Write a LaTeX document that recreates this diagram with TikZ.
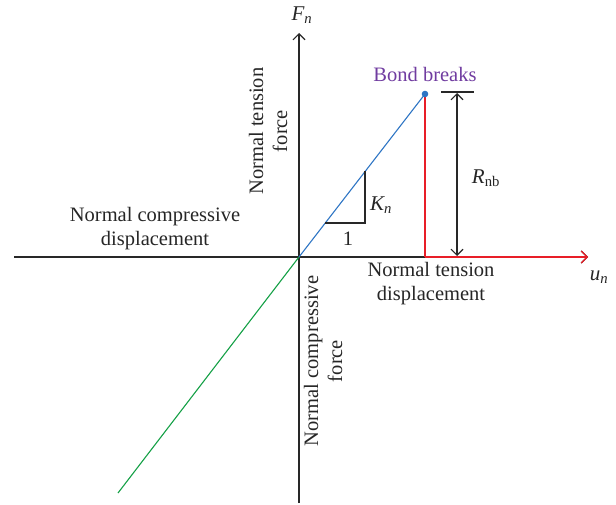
\documentclass[tikz,border=0pt]{standalone}
\usepackage{amsmath}
\usepackage{fontspec}
\setmainfont{Liberation Serif}
\usetikzlibrary{arrows.meta}
\definecolor{cblue}{RGB}{46,117,196}
\definecolor{cred}{RGB}{232,30,40}
\definecolor{cgreen}{RGB}{20,160,70}
\definecolor{cpurple}{RGB}{112,60,160}
\definecolor{caxis}{RGB}{40,40,40}
\begin{document}
\begin{tikzpicture}[x=1pt,y=-1pt,
  tip/.style={-{Straight Barb[length=6pt,width=12pt]}},
  lbl/.style={font=\fontsize{20.5}{24}\selectfont, text=black!85, align=center, inner sep=0pt},
  mathlbl/.style={font=\fontsize{21}{24}\selectfont, text=black!85, inner sep=0pt},
  line width=1.1pt]
\useasboundingbox (0,0) rectangle (616,505);
\coordinate (O) at (299,257);
\coordinate (ytop) at (299,33);
\coordinate (ybot) at (299,503);
\coordinate (xleft) at (14,257);
\coordinate (xright) at (588,257);
\coordinate (B) at (425,94);
\coordinate (Bfoot) at (425,257);
\coordinate (G) at (118,493);
\coordinate (T1) at (325,223);
\coordinate (T2) at (365,223);
\coordinate (T3) at (365,171.5);
\coordinate (D1) at (457,93);
\coordinate (D2) at (457,256);
\coordinate (tk1) at (441,92);
\coordinate (tk2) at (474,92);
% axes
\draw[caxis, tip] (ybot) -- (ytop);
\draw[caxis] (xleft) -- (O);
\draw[caxis, tip] (O) -- (xright);
% curves
\draw[cblue] (O) -- (B);
\draw[cgreen] (O) -- (G);
\draw[cred] (Bfoot) -- (B);
\draw[cred, tip] (Bfoot) -- (xright);
\fill[cblue] (B) circle (3.3pt);
% slope triangle
\draw[caxis] (T1) -- (T2) -- (T3);
% dimension
\draw[caxis] (tk1) -- (tk2);
\draw[caxis, {Straight Barb[length=6pt,width=12pt]}-{Straight Barb[length=6pt,width=12pt]}] (D1) -- (D2);
% labels
\node[mathlbl] (Fn) at (302,15) {$\textit{F}_{\textit{n}}$};
\node[mathlbl] (un) at (599,277) {$\textit{u}_{\textit{n}}$};
\node[lbl, text=cpurple] (bond) at (425,74) {Bond breaks};
\node[mathlbl] (Kn) at (381,205) {$\textit{K}_{\textit{n}}$};
\node[lbl] (one) at (348,239) {1};
\node[mathlbl] (Rnb) at (486,178) {$\textit{R}_{\text{nb}}$};
\node[lbl] (ncd) at (155,229) {Normal compressive\\displacement};
\node[lbl] (ntd) at (431,284) {Normal tension\\displacement};
\node[lbl, rotate=90] (ntf) at (268,131) {Normal tension\\force};
\node[lbl, rotate=90] (ncf) at (323,361) {Normal compressive\\force};
\end{tikzpicture}
\end{document}
